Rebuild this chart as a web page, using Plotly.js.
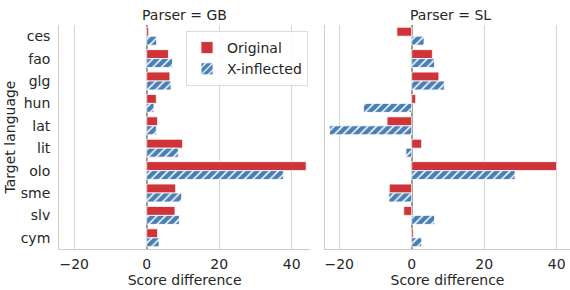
<!DOCTYPE html>
<html>
<head>
<meta charset="utf-8">
<script src="https://cdn.plot.ly/plotly-3.0.1.min.js"></script>
<style>html,body{margin:0;padding:0;background:#fff;}#chart{width:570px;height:290px;}</style>
</head>
<body>
<div id="chart"></div>
<script>
const languages = ["ces","fao","glg","hun","lat","lit","olo","sme","slv","cym"];
const gbOriginal   = [0.55, 6.0, 6.4, 2.65, 3.0, 9.9, 44.0, 8.0, 7.8, 3.0];
const gbXinflected = [2.75, 7.1, 6.7, 2.0, 2.65, 8.7, 37.7, 9.65, 9.0, 3.4];
const slOriginal   = [-4.1, 5.7, 7.5, 1.1, -6.8, 2.75, 40.0, -6.2, -2.2, 0.45];
const slXinflected = [3.4, 6.3, 9.0, -13.3, -22.7, -1.6, 28.5, -6.3, 6.3, 2.75];
const seriesNames = ["Original","X-inflected"];
const xTicks = [-20, 0, 20, 40];
const xTickText = ["\u221220","0","20","40"];

const RED = "rgb(207,52,57)";
const BLUE = "rgb(74,127,182)";
const W = 570, H = 290;
const pxPerUnit = 3.625;

function origTrace(x, xa, ya, show) {
  return {type:"bar", orientation:"h", name:seriesNames[0], x:x, y:languages,
    xaxis:xa, yaxis:ya, showlegend:show, legendgroup:"o",
    marker:{color:RED, line:{color:"white", width:0.8}}};
}
function xinfTrace(x, xa, ya, show) {
  return {type:"bar", orientation:"h", name:seriesNames[1], x:x, y:languages,
    xaxis:xa, yaxis:ya, showlegend:show, legendgroup:"x",
    marker:{color:BLUE, line:{color:"white", width:0.8},
      pattern:{shape:"/", fgcolor:"white", bgcolor:BLUE, size:6, solidity:0.25}}};
}

const data = [
  origTrace(gbOriginal, "x", "y", true),
  xinfTrace(gbXinflected, "x", "y", true),
  origTrace(slOriginal, "x2", "y2", false),
  xinfTrace(slXinflected, "x2", "y2", false)
];

// panel pixel extents
const L1 = 59.3, R1 = 310.0, Z1 = 146.7;
const L2 = 325.0, R2 = 570.0, Z2 = 411.7;
const plotTop = 25, plotBottom = 249;

const gridC = "#d5d5d5";
const spineC = "#cccccc";
const textC = "#262626";
const font = {family:"DejaVu Sans, sans-serif", size:14, color:textC};

function xaxisDef(L, R, Z, anchor, title) {
  return {
    domain:[L/W, R/W], anchor:anchor,
    range:[(L-Z)/pxPerUnit, (R-Z)/pxPerUnit],
    tickvals:xTicks, ticktext:xTickText,
    showgrid:true, gridcolor:gridC, gridwidth:1,
    zeroline:true, zerolinecolor:"#9a9a9a", zerolinewidth:1.6,
    showline:true, linecolor:spineC, linewidth:1.2,
    ticks:"", ticklen:0, tickfont:{size:14, color:textC},
    ticklabelstandoff:2,
    title:{text:title, font:{size:14, color:textC}, standoff:1},
    fixedrange:true
  };
}
function yaxisDef(anchor, showLabels, title) {
  return {
    domain:[1-plotBottom/H, 1-plotTop/H], anchor:anchor,
    range:[9.5,-0.5], type:"category",
    showgrid:false, zeroline:false,
    showline:true, linecolor:spineC, linewidth:1.2,
    showticklabels:showLabels, ticks:"", tickfont:{size:14, color:textC},
    ticklabelstandoff:5,
    title:{text:title, font:{size:14, color:textC}, standoff:1},
    fixedrange:true
  };
}

const layout = {
  width:W, height:H,
  margin:{l:0, r:0, t:0, b:0, pad:0},
  paper_bgcolor:"white", plot_bgcolor:"white",
  font:font,
  barmode:"group", bargap:0.2, bargroupgap:0,
  xaxis:xaxisDef(L1, R1, Z1, "y", "Score difference"),
  yaxis:yaxisDef("x", true, "Target language"),
  xaxis2:xaxisDef(L2, R2, Z2, "y2", "Score difference"),
  yaxis2:yaxisDef("x2", false, ""),
  showlegend:true,
  legend:{x:186/W, y:1-31/H, xanchor:"left", yanchor:"top",
    bgcolor:"rgba(255,255,255,0.85)", bordercolor:"#dddddd", borderwidth:1,
    font:{size:14, color:textC}, tracegroupgap:0, itemwidth:30},
  annotations:[
    {text:"Parser = GB", xref:"paper", yref:"paper", x:(L1+R1)/2/W, y:1-15/H,
     xanchor:"center", yanchor:"middle", showarrow:false, font:{size:14, color:textC}},
    {text:"Parser = SL", xref:"paper", yref:"paper", x:450.3/W, y:1-15/H,
     xanchor:"center", yanchor:"middle", showarrow:false, font:{size:14, color:textC}}
  ]
};

Plotly.newPlot("chart", data, layout, {staticPlot:true, displayModeBar:false});
</script>
</body>
</html>
